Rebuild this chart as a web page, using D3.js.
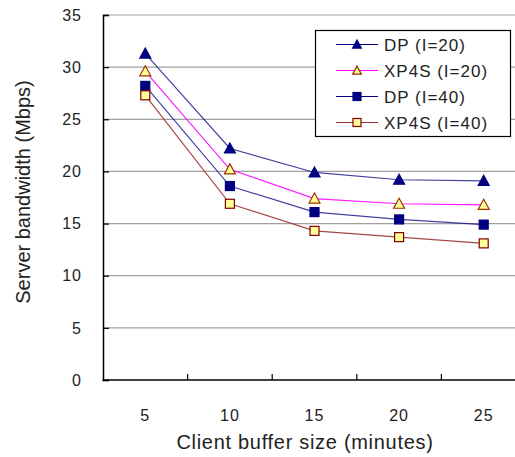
<!DOCTYPE html>
<html>
<head>
<meta charset="utf-8">
<script src="https://cdn.jsdelivr.net/npm/d3@7"></script>
<style>
  html, body { margin: 0; padding: 0; background: #fff; }
  svg { display: block; font-family: "Liberation Sans", Arial, sans-serif; }
</style>
</head>
<body>
<svg id="chart" width="515" height="457"></svg>
<script>
// Client buffer size (minutes)
const bufferSizes = [5, 10, 15, 20, 25];
const yTicks = [0, 5, 10, 15, 20, 25, 30, 35];

// Server bandwidth (Mbps) per scheme
const dpI20   = [31.3, 22.2, 19.9, 19.2, 19.1];
const xp4sI20 = [29.6, 20.2, 17.4, 16.9, 16.8];
const dpI40   = [28.2, 18.6, 16.1, 15.4, 14.9];
const xp4sI40 = [27.3, 16.9, 14.3, 13.7, 13.1];

const seriesNames = ["DP (I=20)", "XP4S (I=20)", "DP (I=40)", "XP4S (I=40)"];

const series = [
  { name: seriesNames[0], values: dpI20,   line: "#000080", shape: "triangle", fill: "#000080", stroke: "#000080" },
  { name: seriesNames[1], values: xp4sI20, line: "#ff00ff", shape: "triangle", fill: "#ffff99", stroke: "#993300" },
  { name: seriesNames[2], values: dpI40,   line: "#000080", shape: "square",   fill: "#000080", stroke: "#000080" },
  { name: seriesNames[3], values: xp4sI40, line: "#993333", shape: "square",   fill: "#ffff99", stroke: "#800000" }
];

const svg = d3.select("#chart");
const plot = { left: 103, right: 526, top: 15, bottom: 380 };

const x = d3.scaleBand().domain(bufferSizes).range([plot.left, plot.right]).padding(0);
const y = d3.scaleLinear().domain([0, 35]).range([plot.bottom, plot.top]);
const cx = d => x(d) + x.bandwidth() / 2;

// horizontal gridlines
svg.append("g")
  .selectAll("line")
  .data(yTicks.filter(t => t > 0))
  .join("line")
  .attr("x1", plot.left).attr("x2", plot.right)
  .attr("y1", d => y(d)).attr("y2", d => y(d))
  .attr("stroke", "#a0a0a0").attr("stroke-width", 1.2);

// y axis with inward ticks
const yAxis = svg.append("g")
  .attr("transform", `translate(${plot.left},0)`)
  .call(d3.axisRight(y).tickValues(yTicks).tickSize(6).tickFormat(""));
yAxis.select(".domain").attr("stroke", "#000").attr("stroke-width", 1.5);
yAxis.selectAll(".tick line").attr("stroke", "#000").attr("stroke-width", 1.2);

svg.append("g")
  .selectAll("text")
  .data(yTicks)
  .join("text")
  .attr("x", 82).attr("y", d => y(d))
  .attr("dy", "0.36em")
  .attr("text-anchor", "end")
  .attr("font-size", 16).attr("letter-spacing", 1)
  .attr("fill", "#222")
  .text(d => d);

// x axis with inward ticks at category boundaries
const bounds = bufferSizes.slice(1).map(d => x(d));
const xAxisG = svg.append("g");
xAxisG.append("line")
  .attr("x1", plot.left - 0.5).attr("x2", plot.right)
  .attr("y1", plot.bottom).attr("y2", plot.bottom)
  .attr("stroke", "#000").attr("stroke-width", 1.5);
xAxisG.selectAll("line.tk")
  .data(bounds)
  .join("line").attr("class", "tk")
  .attr("x1", d => d).attr("x2", d => d)
  .attr("y1", plot.bottom).attr("y2", plot.bottom - 6)
  .attr("stroke", "#000").attr("stroke-width", 1.2);
xAxisG.selectAll("text")
  .data(bufferSizes)
  .join("text")
  .attr("x", d => cx(d)).attr("y", 415)
  .attr("dy", "0.36em")
  .attr("text-anchor", "middle")
  .attr("font-size", 16).attr("letter-spacing", 1)
  .attr("fill", "#222")
  .text(d => d);

// axis titles
svg.append("text")
  .attr("x", 305).attr("y", 442)
  .attr("dy", "0.36em")
  .attr("text-anchor", "middle")
  .attr("font-size", 20).attr("letter-spacing", 0.7)
  .attr("fill", "#222")
  .text("Client buffer size (minutes)");

svg.append("text")
  .attr("transform", "translate(23,192) rotate(-90)")
  .attr("dy", "0.36em")
  .attr("text-anchor", "middle")
  .attr("font-size", 20)
  .attr("fill", "#222")
  .text("Server bandwidth (Mbps)");

function marker(g, shape, size, fill, stroke) {
  if (shape === "triangle") {
    g.append("path")
      .attr("d", `M0,${-size * 0.55}L${size * 0.55},${size * 0.45}L${-size * 0.55},${size * 0.45}Z`)
      .attr("fill", fill).attr("stroke", stroke).attr("stroke-width", 1.2);
  } else {
    g.append("rect")
      .attr("x", -size / 2).attr("y", -size / 2)
      .attr("width", size).attr("height", size)
      .attr("fill", fill).attr("stroke", stroke).attr("stroke-width", 1.2);
  }
}

const line = d3.line().x((d, i) => cx(bufferSizes[i])).y(d => y(d));

series.forEach(s => {
  svg.append("path")
    .datum(s.values)
    .attr("d", line)
    .attr("fill", "none")
    .attr("stroke", s.line)
    .attr("stroke-width", 1.2)
    .attr("stroke-opacity", s.line === "#000080" ? 0.75 : 0.9);
});

series.forEach(s => {
  s.values.forEach((v, i) => {
    const g = svg.append("g").attr("transform", `translate(${cx(bufferSizes[i])},${y(v)})`);
    marker(g, s.shape, s.shape === "triangle" ? 10 : 9, s.fill, s.stroke);
  });
});

// legend
const legend = svg.append("g");
legend.append("rect")
  .attr("x", 315.5).attr("y", 30.5)
  .attr("width", 195).attr("height", 106)
  .attr("fill", "#fff").attr("stroke", "#000").attr("stroke-width", 1.2);

series.forEach((s, i) => {
  const ly = 44.5 + i * 26;
  const row = legend.append("g");
  row.append("line")
    .attr("x1", 336).attr("x2", 378)
    .attr("y1", ly).attr("y2", ly)
    .attr("stroke", s.line).attr("stroke-width", 1.2);
  const mg = row.append("g").attr("transform", `translate(357,${ly})`);
  marker(mg, s.shape, 8, s.fill, s.stroke);
  row.append("text")
    .attr("x", 384).attr("y", ly)
    .attr("dy", "0.36em")
    .attr("font-size", 17).attr("letter-spacing", 1)
    .attr("fill", "#222")
    .text(s.name);
});
</script>
</body>
</html>
